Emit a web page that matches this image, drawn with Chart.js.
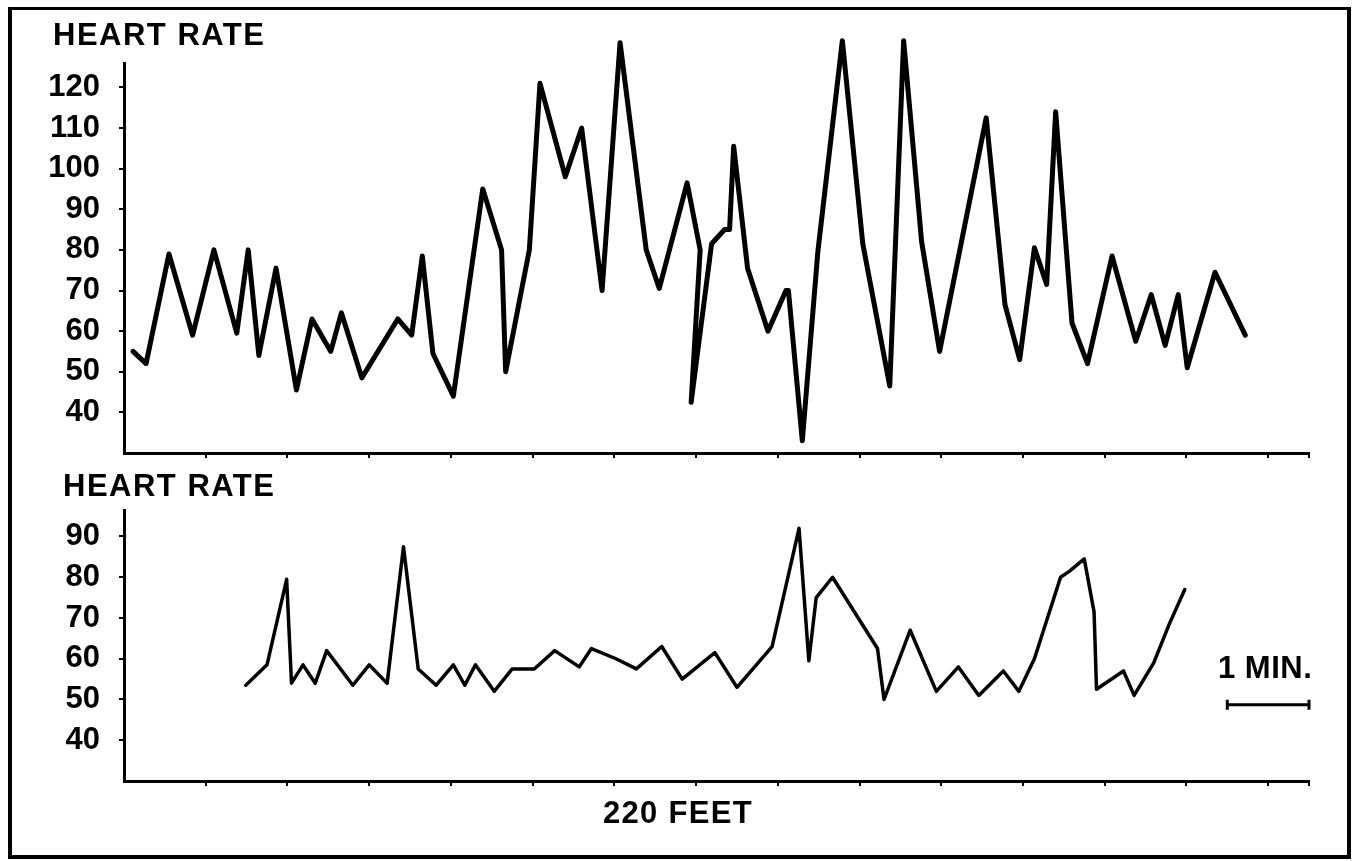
<!DOCTYPE html>
<html>
<head>
<meta charset="utf-8">
<script src="https://cdn.jsdelivr.net/npm/chart.js@4.4.1/dist/chart.umd.min.js"></script>
<style>
  body { margin: 0; background: #fff; }
  #frame { position: absolute; left: 8px; top: 7px; width: 1343px; height: 852px;
           box-sizing: border-box; border: 4px solid #000; border-top-width: 3px; }
  canvas { position: absolute; left: 0; }
  #top { top: 0; }
  #bottom { top: 470px; }
</style>
</head>
<body>
<div id="frame"></div>
<canvas id="top" width="1354" height="470"></canvas>
<canvas id="bottom" width="1354" height="391"></canvas>
<script>
// time axis in minutes (one tick = 1 minute)
const xTicks = [1, 2, 3, 4, 5, 6, 7, 8, 9, 10, 11, 12, 13, 14, 14.5];

// upper trace
const topMinutes = [0.11, 0.27, 0.55, 0.84, 1.10, 1.38, 1.52, 1.65, 1.86, 2.11,
  2.30, 2.53, 2.66, 2.91, 3.35, 3.52, 3.65, 3.78, 4.03, 4.39,
  4.62, 4.67, 4.96, 5.09, 5.40, 5.60, 5.85, 6.07, 6.39, 6.55,
  6.89, 7.05, 6.94, 7.19, 7.35, 7.41, 7.46, 7.63, 7.88, 8.10,
  8.13, 8.30, 8.49, 8.79, 9.04, 9.37, 9.54, 9.76, 9.98, 10.55,
  10.78, 10.96, 11.14, 11.29, 11.40, 11.60, 11.79, 12.09, 12.38, 12.57,
  12.74, 12.90, 13.01, 13.35, 13.72];
const topBpm = [55, 52, 79, 59, 80, 59.5, 80, 54, 75.5, 45.5,
  63, 55, 64.5, 48.5, 63, 59, 78.5, 54.5, 44, 95,
  80, 50, 80, 121, 98, 110, 70, 131, 80, 70.5,
  96.5, 80, 42.5, 81.5, 85, 85, 105.5, 75.5, 60, 70,
  70, 33, 79.5, 131.5, 81.5, 46.5, 131.5, 82, 55, 112.5,
  66.5, 53, 80.5, 71.5, 114, 62, 52, 78.5, 57.5, 69,
  56.5, 69, 51, 74.5, 59];
const topTicks = [40, 50, 60, 70, 80, 90, 100, 110, 120];

// lower trace
const botMinutes = [1.49, 1.75, 1.99, 2.05, 2.19, 2.34, 2.48, 2.80, 3.00, 3.22,
  3.42, 3.60, 3.82, 4.03, 4.17, 4.30, 4.53, 4.75, 5.02, 5.27,
  5.57, 5.72, 6.02, 6.27, 6.58, 6.83, 7.23, 7.50, 7.93, 8.26,
  8.38, 8.47, 8.67, 9.22, 9.30, 9.62, 9.94, 10.21, 10.46, 10.76,
  10.95, 11.14, 11.46, 11.57, 11.75, 11.87, 11.90, 12.23, 12.36, 12.60,
  12.79, 12.98];
const botBpm = [53.5, 58.5, 79.5, 54, 58.5, 54, 62, 53.5, 58.5, 54,
  87.5, 57.5, 53.5, 58.5, 53.5, 58.5, 52, 57.5, 57.5, 62,
  58, 62.5, 60, 57.5, 63, 55, 61.5, 53, 63, 92,
  59.5, 75, 80, 62.5, 50, 67, 52, 58, 51, 57,
  52, 60, 80, 81.5, 84.5, 71.5, 52.5, 57, 51, 59,
  68.5, 77];
const botTicks = [40, 50, 60, 70, 80, 90];

// scale bar: one minute
const scaleBar = { from: 13.5, to: 14.5, at: 48.7 };

const INK = '#000';
const FONT = '"Liberation Sans", Arial, sans-serif';

const textPlugin = {
  id: 'texts',
  afterDraw(chart, args, opts) {
    const ctx = chart.ctx;
    ctx.save();
    ctx.fillStyle = INK;
    ctx.font = 'bold 31px ' + FONT;
    ctx.textBaseline = 'alphabetic';
    (opts.items || []).forEach(t => {
      ctx.letterSpacing = t.spacing + 'px';
      ctx.fillText(t.text, t.x, t.y);
    });
    if (opts.bar) {
      const xs = chart.scales.x, ys = chart.scales.y;
      const x0 = xs.getPixelForValue(opts.bar.from);
      const x1 = xs.getPixelForValue(opts.bar.to);
      const py = ys.getPixelForValue(opts.bar.at);
      ctx.strokeStyle = INK;
      ctx.lineWidth = 3;
      ctx.beginPath();
      ctx.moveTo(x0, py); ctx.lineTo(x1, py);
      ctx.moveTo(x0, py - 5); ctx.lineTo(x0, py + 5);
      ctx.moveTo(x1, py - 5); ctx.lineTo(x1, py + 5);
      ctx.stroke();
    }
    ctx.restore();
  }
};

function makeChart(id, minutes, bpm, cfg) {
  const points = minutes.map((m, i) => ({ x: m, y: bpm[i] }));
  return new Chart(document.getElementById(id), {
    type: 'line',
    data: {
      datasets: [{
        data: points,
        borderColor: INK,
        borderWidth: cfg.lineWidth,
        borderJoinStyle: 'round',
        borderCapStyle: 'round',
        pointRadius: 0,
        tension: 0,
        clip: false
      }]
    },
    options: {
      responsive: false,
      animation: false,
      devicePixelRatio: 1,
      events: [],
      layout: { padding: { top: cfg.padTop, right: 45, left: 0, bottom: 0 } },
      plugins: {
        legend: { display: false },
        tooltip: { enabled: false },
        texts: { items: cfg.texts, bar: cfg.bar }
      },
      scales: {
        x: {
          type: 'linear', min: 0, max: 14.5,
          afterBuildTicks: a => { a.ticks = xTicks.map(v => ({ value: v })); },
          afterFit: a => { a.height = cfg.xHeight; a.paddingLeft = 0; a.paddingRight = 0; },
          ticks: { display: false },
          grid: { drawOnChartArea: false, color: INK, lineWidth: 2, tickLength: 5 },
          border: { color: INK, width: 3 }
        },
        y: {
          type: 'linear', min: 30, max: cfg.yMax,
          afterBuildTicks: a => { a.ticks = cfg.yTicks.map(v => ({ value: v })); },
          afterFit: a => { a.width = 124; a.paddingTop = 0; a.paddingBottom = 0; },
          ticks: { color: INK, font: { family: FONT, size: 31, weight: 'bold' }, padding: 19, autoSkip: false },
          grid: { drawOnChartArea: false, color: INK, lineWidth: 2, tickLength: 5 },
          border: { color: INK, width: 3 }
        }
      }
    },
    plugins: [textPlugin]
  });
}

makeChart('top', topMinutes, topBpm, {
  lineWidth: 5, yMax: 126, yTicks: topTicks, padTop: 63, xHeight: 17,
  texts: [{ text: 'HEART RATE', x: 53, y: 45, spacing: 1.5 }]
});

makeChart('bottom', botMinutes, botBpm, {
  lineWidth: 3.5, yMax: 96.5, yTicks: botTicks, padTop: 40, xHeight: 80,
  texts: [
    { text: 'HEART RATE', x: 63, y: 26, spacing: 1.5 },
    { text: '220 FEET', x: 603, y: 353, spacing: 1.3 },
    { text: '1 MIN.', x: 1218, y: 208, spacing: 0.5 }
  ],
  bar: scaleBar
});
</script>
</body>
</html>
